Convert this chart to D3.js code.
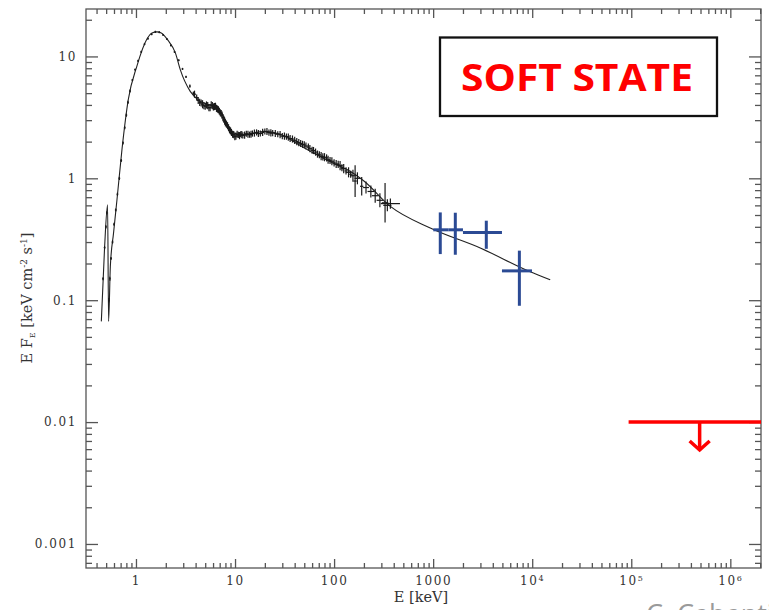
<!DOCTYPE html>
<html lang="en">
<head>
<meta charset="utf-8">
<title>Soft state spectrum</title>
<script src="https://d3js.org/d3.v7.min.js"></script>
<style>
    body { margin: 0; background: #fff; }
    svg { display: block; }
    .tick text { font-family: "DejaVu Serif", serif; font-size: 12px; letter-spacing: 1.6px; fill: #333; }
    .axis path, .axis line { stroke: #555; stroke-width: 1.3; }
</style>
</head>
<body>
<div id="chart"></div>
<script>
    // model curve (E in keV, E*F_E)
    const modelE = [0.447, 0.482, 0.517, 0.529, 0.551, 0.594, 0.643, 0.722, 0.836, 1.02, 1.29, 1.45, 1.63, 1.8, 2.1, 2.5, 2.8, 3.53, 4.46, 5.3, 6.56, 7.66, 8.95, 11.3, 14, 19.4, 28.6, 40, 62, 106, 135, 200, 370, 935, 2990, 9400, 15200];
    const modelF = [0.067, 0.27, 0.607, 0.067, 0.188, 0.357, 0.667, 1.72, 4.42, 8.3, 13.9, 15.6, 15.9, 15.6, 13.6, 10.7, 7.8, 5.17, 4.28, 4.05, 3.78, 3.22, 2.5, 2.28, 2.3, 2.43, 2.3, 1.98, 1.61, 1.29, 1.18, 0.95, 0.588, 0.391, 0.268, 0.172, 0.147];

    // soft X-ray points with error factors (multiplicative half widths)
    const dataE = [0.465, 0.482, 0.497, 0.508, 0.532, 0.545, 0.56, 0.58, 0.6, 0.625, 0.65, 0.68, 0.71, 0.74, 0.77, 0.8, 0.83, 0.87, 0.92, 0.98, 1.05, 1.13, 1.22, 1.32, 1.44, 1.57, 1.72, 1.88, 2.05, 2.25, 2.45, 2.7, 2.95, 3.2, 3.5, 3.8,
        4.1, 4.4, 4.7, 5.0, 5.3, 5.6, 5.9, 6.2, 6.5, 6.8, 7.1, 7.4, 7.7, 8.0, 8.4, 8.8, 9.2, 9.7, 10.2, 10.8, 11.4, 12, 13, 14, 15, 16.5, 18, 20, 22, 24, 27, 30, 33, 36, 40, 44, 48, 52, 57, 62, 68, 74, 80, 87, 95, 105, 115, 125, 140, 155, 163, 172, 190, 210, 235, 260, 290, 327, 345, 370];
    const dataF = [0.15, 0.27, 0.40, 0.52, 0.10, 0.15, 0.22, 0.30, 0.42, 0.55, 0.74, 1.0, 1.4, 1.95, 2.6, 3.3, 4.2, 5.2, 6.4, 7.8, 9.2, 10.9, 12.6, 14.0, 15.2, 15.9, 15.8, 15.0, 13.9, 12.3, 10.9, 9.3, 7.9, 6.8, 5.7, 5.0,
        4.6, 4.2, 4.05, 3.9, 3.95, 3.8, 3.95, 3.88, 3.75, 3.65, 3.45, 3.3, 3.05, 2.85, 2.7, 2.5, 2.38, 2.28, 2.22, 2.27, 2.3, 2.25, 2.32, 2.28, 2.33, 2.38, 2.33, 2.42, 2.37, 2.35, 2.3, 2.22, 2.2, 2.12, 2.05, 1.96, 1.9, 1.84, 1.75, 1.69, 1.58, 1.52, 1.49, 1.42, 1.38, 1.31, 1.27, 1.2, 1.12, 1.05, 0.95, 1.0, 0.86, 0.84, 0.78, 0.72, 0.66, 0.63, 0.6, 0.62];
    const dataErrE = [1.02, 1.02, 1.02, 1.02, 1.02, 1.02, 1.02, 1.02, 1.02, 1.02, 1.02, 1.02, 1.02, 1.02, 1.02, 1.02, 1.02, 1.02, 1.02, 1.02, 1.02, 1.02, 1.02, 1.02, 1.02, 1.02, 1.02, 1.02, 1.02, 1.02, 1.02, 1.02, 1.02, 1.02, 1.02, 1.02,
        1.03, 1.03, 1.03, 1.03, 1.03, 1.03, 1.03, 1.03, 1.03, 1.03, 1.03, 1.03, 1.03, 1.03, 1.03, 1.03, 1.03, 1.03, 1.05, 1.05, 1.05, 1.05, 1.05, 1.06, 1.06, 1.06, 1.06, 1.06, 1.06, 1.06, 1.05, 1.05, 1.05, 1.05, 1.05, 1.05, 1.05, 1.05, 1.05, 1.05, 1.05, 1.05, 1.05, 1.05, 1.05, 1.06, 1.06, 1.06, 1.07, 1.07, 1.04, 1.07, 1.04, 1.07, 1.08, 1.08, 1.08, 1.08, 1.1, 1.25];
    const dataErrF = [1.03, 1.03, 1.03, 1.03, 1.04, 1.04, 1.03, 1.03, 1.03, 1.03, 1.03, 1.03, 1.03, 1.03, 1.03, 1.03, 1.03, 1.03, 1.02, 1.02, 1.02, 1.02, 1.02, 1.02, 1.02, 1.02, 1.02, 1.02, 1.02, 1.02, 1.02, 1.02, 1.02, 1.02, 1.03, 1.03,
        1.06, 1.07, 1.08, 1.07, 1.07, 1.07, 1.07, 1.07, 1.07, 1.07, 1.07, 1.07, 1.07, 1.07, 1.07, 1.07, 1.07, 1.07, 1.07, 1.06, 1.06, 1.06, 1.06, 1.06, 1.06, 1.06, 1.06, 1.06, 1.06, 1.06, 1.06, 1.06, 1.06, 1.07, 1.07, 1.07, 1.07, 1.07, 1.07, 1.07, 1.07, 1.08, 1.08, 1.08, 1.08, 1.08, 1.09, 1.09, 1.1, 1.12, 1.35, 1.12, 1.19, 1.12, 1.12, 1.14, 1.14, 1.45, 1.12, 1.1];

    // second overlapping instrument, 4-150 keV
    const data2E = [3.9, 4.25, 4.55, 4.85, 5.15, 5.45, 5.75, 6.05, 6.35, 6.65, 6.95, 7.25, 7.55, 7.85, 8.2, 8.6, 9.0, 9.45, 9.95, 10.5, 11.1, 11.7, 12.5, 13.5, 14.5, 15.7, 17.2, 19, 21, 23, 25.5, 28.5, 31.5, 34.5, 38, 42, 46, 50, 55, 60, 65, 71, 77, 84, 91, 100, 110, 120, 132, 147];
    const data2F = [4.9, 4.35, 4.15, 3.95, 4.0, 3.8, 4.0, 3.85, 3.9, 3.7, 3.55, 3.4, 3.15, 2.95, 2.78, 2.6, 2.45, 2.3, 2.2, 2.3, 2.24, 2.28, 2.26, 2.3, 2.3, 2.35, 2.33, 2.38, 2.42, 2.36, 2.33, 2.28, 2.22, 2.18, 2.1, 2.0, 1.93, 1.88, 1.8, 1.7, 1.64, 1.56, 1.5, 1.47, 1.4, 1.34, 1.3, 1.22, 1.15, 1.08];
    const data2ErrE = 1.035;
    const data2ErrF = 1.07;

    // hard X-ray points (blue crosses)
    const hardE = [1180, 1674, 3440, 7420];
    const hardELo = [1003, 1422, 2000, 4950];
    const hardEHi = [1422, 2000, 4950, 9950];
    const hardF = [0.378, 0.378, 0.36, 0.174];
    const hardFLo = [0.239, 0.236, 0.264, 0.09];
    const hardFHi = [0.525, 0.522, 0.449, 0.255];

    // gamma-ray upper limit (red)
    const limitELo = [9.4e4];
    const limitEHi = [2.04e6];
    const limitE = [4.9e5];
    const limitF = [0.01];
    const limitArrowF = [0.0059];

    const xMajor = [1, 10, 100, 1000, 1e4, 1e5, 1e6];
    const xTickLabels = ['1', '10', '100', '1000', '10', '10', '10'];
    const xTickExp = ['', '', '', '', '4', '5', '6'];
    const yMajor = [0.001, 0.01, 0.1, 1, 10];
    const yTickLabels = ['0.001', '0.01', '0.1', '1', '10'];

    const width = 769, height = 610;
    const plotL = 86, plotR = 761, plotT = 9, plotB = 568;

    const svg = d3.select('#chart').append('svg')
        .attr('width', width).attr('height', height);

    const x = d3.scaleLog().domain([0.313, 2.04e6]).range([plotL, plotR]);
    const y = d3.scaleLog().domain([6.35e-4, 24.5]).range([plotB, plotT]);

    function minors(lo, hi) {
        const out = [];
        for (let p = Math.floor(Math.log10(lo)); p <= Math.ceil(Math.log10(hi)); p++) {
            for (let m = 2; m <= 9; m++) {
                const v = m * Math.pow(10, p);
                if (v > lo && v < hi * 0.99) out.push(v);
            }
        }
        return out;
    }
    const xMinor = minors(0.313, 2.04e6);
    const yMinor = minors(6.35e-4, 24.5);

    // frame
    svg.append('rect')
        .attr('x', plotL).attr('y', plotT)
        .attr('width', plotR - plotL).attr('height', plotB - plotT)
        .attr('fill', 'none').attr('stroke', '#555').attr('stroke-width', 1.3);

    // x axes
    const xb = svg.append('g').attr('class', 'axis').attr('transform', `translate(0,${plotB})`)
        .call(d3.axisBottom(x).tickValues(xMajor).tickSize(-9).tickPadding(8).tickSizeOuter(0)
            .tickFormat((d, i) => xTickLabels[i]));
    xb.selectAll('.tick text').each(function (d, i) {
        if (xTickExp[i]) {
            d3.select(this).append('tspan')
                .attr('dy', '-0.45em').attr('font-size', '8px').text(xTickExp[i]);
        }
    });
    svg.append('g').attr('class', 'axis').attr('transform', `translate(0,${plotB})`)
        .call(d3.axisBottom(x).tickValues(xMinor).tickSize(-5).tickFormat('').tickSizeOuter(0));
    svg.append('g').attr('class', 'axis').attr('transform', `translate(0,${plotT})`)
        .call(d3.axisTop(x).tickValues(xMajor).tickSize(-9).tickFormat('').tickSizeOuter(0));
    svg.append('g').attr('class', 'axis').attr('transform', `translate(0,${plotT})`)
        .call(d3.axisTop(x).tickValues(xMinor).tickSize(-5).tickFormat('').tickSizeOuter(0));

    // y axes
    svg.append('g').attr('class', 'axis').attr('transform', `translate(${plotL},0)`)
        .call(d3.axisLeft(y).tickValues(yMajor).tickSize(-12).tickPadding(9).tickSizeOuter(0)
            .tickFormat((d, i) => yTickLabels[i]));
    svg.append('g').attr('class', 'axis').attr('transform', `translate(${plotL},0)`)
        .call(d3.axisLeft(y).tickValues(yMinor).tickSize(-6).tickFormat('').tickSizeOuter(0));
    svg.append('g').attr('class', 'axis').attr('transform', `translate(${plotR},0)`)
        .call(d3.axisRight(y).tickValues(yMajor).tickSize(-12).tickFormat('').tickSizeOuter(0));
    svg.append('g').attr('class', 'axis').attr('transform', `translate(${plotR},0)`)
        .call(d3.axisRight(y).tickValues(yMinor).tickSize(-6).tickFormat('').tickSizeOuter(0));
    svg.selectAll('.axis .domain').remove();

    // axis titles
    svg.append('text')
        .attr('x', 421).attr('y', 602)
        .attr('text-anchor', 'middle')
        .attr('font-family', '"DejaVu Serif", serif').attr('font-size', 14.5)
        .attr('fill', '#333')
        .text('E [keV]');

    const yl = svg.append('text')
        .attr('transform', 'translate(32,298) rotate(-90)')
        .attr('text-anchor', 'middle')
        .attr('font-family', '"DejaVu Serif", serif').attr('font-size', 14.5)
        .attr('fill', '#333');
    yl.append('tspan').text('E F');
    yl.append('tspan').attr('font-size', 8).attr('dy', 3).text('E');
    yl.append('tspan').attr('dy', -3).text(' [keV cm');
    yl.append('tspan').attr('font-size', 9).attr('dy', -5).text('-2');
    yl.append('tspan').attr('dy', 5).text(' s');
    yl.append('tspan').attr('font-size', 9).attr('dy', -5).text('-1');
    yl.append('tspan').attr('dy', 5).text(']');

    svg.append('clipPath').attr('id', 'clip').append('rect')
        .attr('x', plotL).attr('y', plotT).attr('width', plotR - plotL).attr('height', plotB - plotT);
    const plot = svg.append('g').attr('clip-path', 'url(#clip)');

    // model
    const line = d3.line()
        .x(i => x(modelE[i]))
        .y(i => y(modelF[i]))
        .curve(d3.curveMonotoneX);
    plot.append('path')
        .attr('d', line(d3.range(modelE.length)))
        .attr('fill', 'none').attr('stroke', '#222').attr('stroke-width', 1.1);

    // data crosses
    const dg = plot.append('g').attr('stroke', '#1a1a1a').attr('stroke-width', 1.2);
    function cross(e, f, ex, ey) {
        dg.append('line')
            .attr('x1', x(e / ex)).attr('x2', x(e * ex))
            .attr('y1', y(f)).attr('y2', y(f));
        dg.append('line')
            .attr('x1', x(e)).attr('x2', x(e))
            .attr('y1', y(f / ey)).attr('y2', y(f * ey));
    }
    dataE.forEach((e, i) => cross(e, dataF[i], dataErrE[i], dataErrF[i]));
    data2E.forEach((e, i) => cross(e, data2F[i], data2ErrE, data2ErrF));

    // hard X-ray crosses
    const blue = '#2b4a94';
    const hg = plot.append('g').attr('stroke', blue).attr('stroke-width', 3);
    hardE.forEach((e, i) => {
        hg.append('line')
            .attr('x1', x(hardELo[i])).attr('x2', x(hardEHi[i]))
            .attr('y1', y(hardF[i])).attr('y2', y(hardF[i]));
        hg.append('line')
            .attr('x1', x(e)).attr('x2', x(e))
            .attr('y1', y(hardFLo[i])).attr('y2', y(hardFHi[i]));
    });

    // upper limit
    const lg = svg.append('g').attr('stroke', '#ff0000').attr('stroke-width', 3.5).attr('fill', 'none');
    limitE.forEach((e, i) => {
        lg.append('line')
            .attr('x1', x(limitELo[i])).attr('x2', Math.min(x(limitEHi[i]), plotR))
            .attr('y1', y(limitF[i])).attr('y2', y(limitF[i]));
        const ax = x(e), ay = y(limitArrowF[i]);
        lg.append('line')
            .attr('x1', ax).attr('x2', ax)
            .attr('y1', y(limitF[i])).attr('y2', ay - 1);
        lg.append('path')
            .attr('d', `M${ax - 10},${ay - 9} L${ax},${ay} L${ax + 10},${ay - 9}`)
            .attr('stroke-linejoin', 'miter');
    });

    // state label box
    svg.append('rect')
        .attr('x', 440).attr('y', 37.5).attr('width', 277).attr('height', 78.5)
        .attr('fill', '#fff').attr('stroke', '#111').attr('stroke-width', 2.3);
    svg.append('text')
        .attr('x', 577).attr('y', 91)
        .attr('text-anchor', 'middle')
        .attr('font-family', '"Open Sans", sans-serif').attr('font-weight', 'bold')
        .attr('font-size', 37)
        .attr('textLength', 232).attr('lengthAdjust', 'spacingAndGlyphs')
        .attr('fill', '#ff0000')
        .text('SOFT STATE');

    // credit text, cut at the bottom edge as in the source slide
    svg.append('text')
        .attr('x', 646).attr('y', 624)
        .attr('font-family', '"Open Sans", sans-serif').attr('font-size', 27)
        .attr('fill', '#9a9a9a')
        .text('C. Cabanti');
</script>
</body>
</html>
